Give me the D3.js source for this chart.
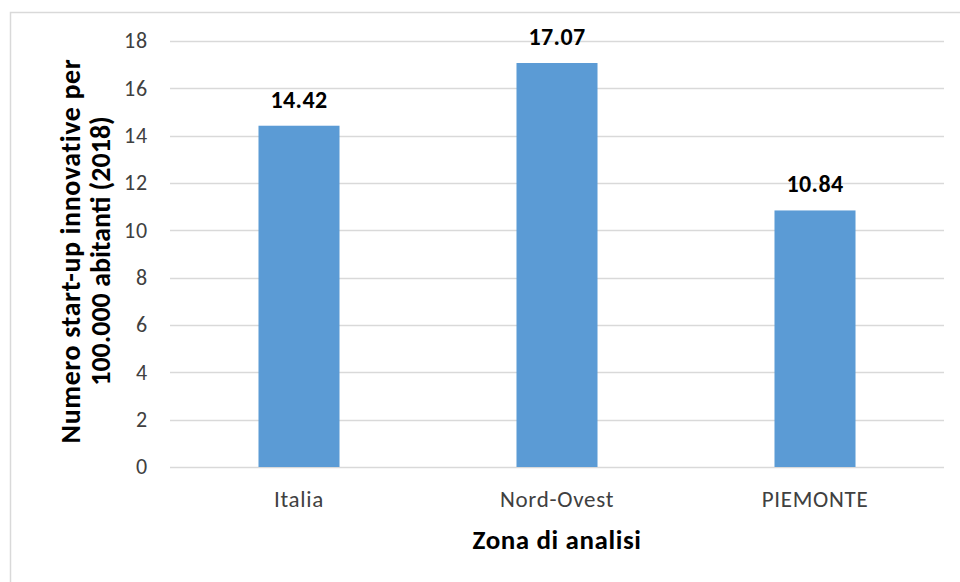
<!DOCTYPE html>
<html>
<head>
<meta charset="utf-8">
<script src="https://cdn.jsdelivr.net/npm/d3@7"></script>
<style>
  body { margin: 0; background: #fff; }
  text { font-family: Carlito, Calibri, "Open Sans", sans-serif; }
</style>
</head>
<body>
<div class="chart"></div>
<script>
const categories = ["Italia", "Nord-Ovest", "PIEMONTE"];
const values = [14.42, 17.07, 10.84];
const yTicks = [0, 2, 4, 6, 8, 10, 12, 14, 16, 18];

const width = 960;
const height = 582;
const plotLeft = 170, plotRight = 944, plotTop = 41, plotBottom = 467;

const svg = d3.select(".chart")
  .append("svg")
  .attr("width", width)
  .attr("height", height)
  .style("display", "block");

// outer frame (runs past the right and bottom edges)
svg.append("rect")
  .attr("x", 10.5).attr("y", 12.5)
  .attr("width", 1000).attr("height", 600)
  .attr("fill", "none")
  .attr("stroke", "#d9d9d9")
  .attr("stroke-width", 1.5);

const x = d3.scaleBand()
  .domain(categories)
  .range([plotLeft, plotRight])
  .paddingInner(0.686)
  .paddingOuter(0.343);

const y = d3.scaleLinear()
  .domain([0, 18])
  .range([plotBottom, plotTop]);

// gridlines
svg.append("g")
  .selectAll("line")
  .data(yTicks)
  .enter()
  .append("line")
  .attr("x1", plotLeft).attr("x2", plotRight)
  .attr("y1", d => Math.round(y(d)) + 0.5)
  .attr("y2", d => Math.round(y(d)) + 0.5)
  .attr("stroke", "#d9d9d9")
  .attr("stroke-width", 1.3);

// y tick labels
svg.append("g")
  .selectAll("text")
  .data(yTicks)
  .enter()
  .append("text")
  .attr("x", 148)
  .attr("y", d => y(d))
  .attr("dy", "0.33em")
  .attr("text-anchor", "end")
  .attr("font-size", 22)
  .attr("letter-spacing", 0.8)
  .attr("fill", "#404040")
  .text(d => d);

// bars
svg.append("g")
  .selectAll("rect")
  .data(values)
  .enter()
  .append("rect")
  .attr("x", (d, i) => x(categories[i]))
  .attr("y", d => y(d))
  .attr("width", x.bandwidth())
  .attr("height", d => plotBottom - y(d))
  .attr("fill", "#5b9bd5");

// value labels
svg.append("g")
  .selectAll("text")
  .data(values)
  .enter()
  .append("text")
  .attr("x", (d, i) => x(categories[i]) + x.bandwidth() / 2)
  .attr("y", d => y(d) - 18)
  .attr("text-anchor", "middle")
  .attr("font-size", 24)
  .attr("font-weight", "bold")
  .attr("letter-spacing", 0.4)
  .attr("fill", "#000")
  .text(d => d.toFixed(2));

// x tick labels
svg.append("g")
  .selectAll("text")
  .data(categories)
  .enter()
  .append("text")
  .attr("x", d => x(d) + x.bandwidth() / 2)
  .attr("y", 507)
  .attr("text-anchor", "middle")
  .attr("font-size", 23)
  .attr("letter-spacing", 0.7)
  .attr("fill", "#404040")
  .text(d => d);

// axis titles
svg.append("text")
  .attr("x", 557)
  .attr("y", 549)
  .attr("text-anchor", "middle")
  .attr("font-size", 27)
  .attr("font-weight", "bold")
  .attr("letter-spacing", 0.6)
  .attr("fill", "#000")
  .text("Zona di analisi");

const yTitle = svg.append("text")
  .attr("transform", "translate(80,251) rotate(-90)")
  .attr("text-anchor", "middle")
  .attr("font-size", 28)
  .attr("font-weight", "bold")
  .attr("fill", "#000");
yTitle.append("tspan").attr("x", 0).attr("dy", 0)
  .attr("letter-spacing", 0.6)
  .text("Numero start-up innovative per");
yTitle.append("tspan").attr("x", 0).attr("dy", 30)
  .text("100.000 abitanti (2018)");
</script>
</body>
</html>
